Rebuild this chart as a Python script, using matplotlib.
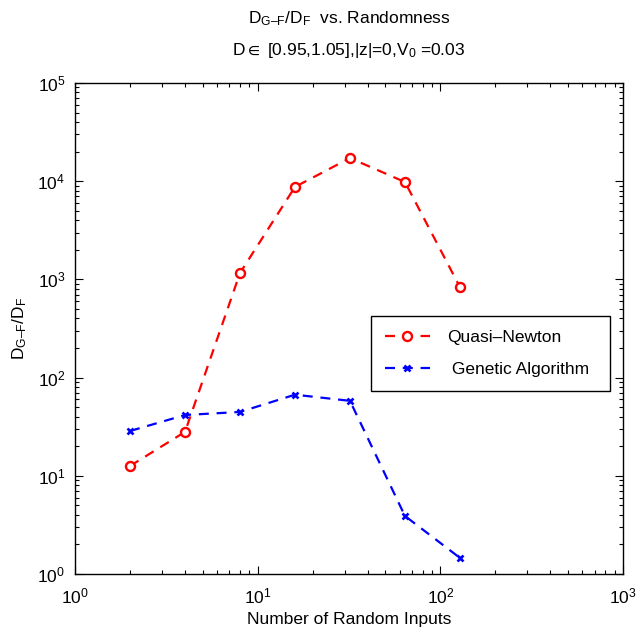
import matplotlib
matplotlib.use("Agg")
import matplotlib.pyplot as plt

plt.rcParams["font.family"] = ["Liberation Sans", "DejaVu Sans"]
plt.rcParams["mathtext.fontset"] = "custom"
plt.rcParams["mathtext.rm"] = "Liberation Sans"
plt.rcParams["mathtext.it"] = "Liberation Sans"
plt.rcParams["mathtext.default"] = "regular"

# data
n_inputs = [2, 4, 8, 16, 32, 64, 128]
quasi_newton = [12.6, 28.0, 1160, 8740, 17200, 9800, 835]
genetic_alg = [28.6, 41.6, 44.7, 67, 58, 3.9, 1.46]

FS = 12.5

fig = plt.figure(figsize=(6.38, 6.31), dpi=100, facecolor="white")
ax = fig.add_axes([0.1176, 0.0903, 0.8589, 0.7782])

ax.plot(n_inputs, quasi_newton, color="red", linestyle=(0, (4.5, 3.5)), linewidth=1.6,
        marker="o", markersize=6.5, markerfacecolor="white", markeredgewidth=1.7,
        label="Quasi\u2013Newton")
ax.plot(n_inputs, genetic_alg, color="blue", linestyle=(0, (4.5, 3.5)), linewidth=1.6,
        marker="x", markersize=4.5, markeredgewidth=1.9,
        label=" Genetic Algorithm")

ax.set_xscale("log")
ax.set_yscale("log")
ax.set_xlim(1, 1000)
ax.set_ylim(1, 1e5)

ax.tick_params(which="both", direction="in", top=True, right=True, labelsize=FS)
ax.tick_params(axis="x", which="major", pad=9)
ax.tick_params(axis="y", which="major", pad=7)
ax.tick_params(which="major", length=6, width=0.8)
ax.tick_params(which="minor", length=3, width=0.8)
for s in ax.spines.values():
    s.set_linewidth(1.0)

ax.set_xlabel("Number of Random Inputs", fontsize=FS, labelpad=4)
ax.set_ylabel("$D_{G\u2013F}/D_F$", fontsize=FS, labelpad=6)

ax.set_title("$D_{G\u2013F}/D_F$  vs. Randomness\n"
             "D$\\in$ [0.95,1.05],|z|=0,V$_0$ =0.03",
             fontsize=FS, pad=20, linespacing=1.95)

leg = ax.legend(loc="center", bbox_to_anchor=(0.54, 0.371, 0.436, 0.156),
                mode="expand", fancybox=False, framealpha=1, edgecolor="black",
                fontsize=FS, handlelength=2.6, labelspacing=1.0, borderpad=0.8,
                handletextpad=1.0, borderaxespad=0)
leg.get_frame().set_linewidth(1.0)

fig.savefig("out.png", dpi=100, facecolor="white")
